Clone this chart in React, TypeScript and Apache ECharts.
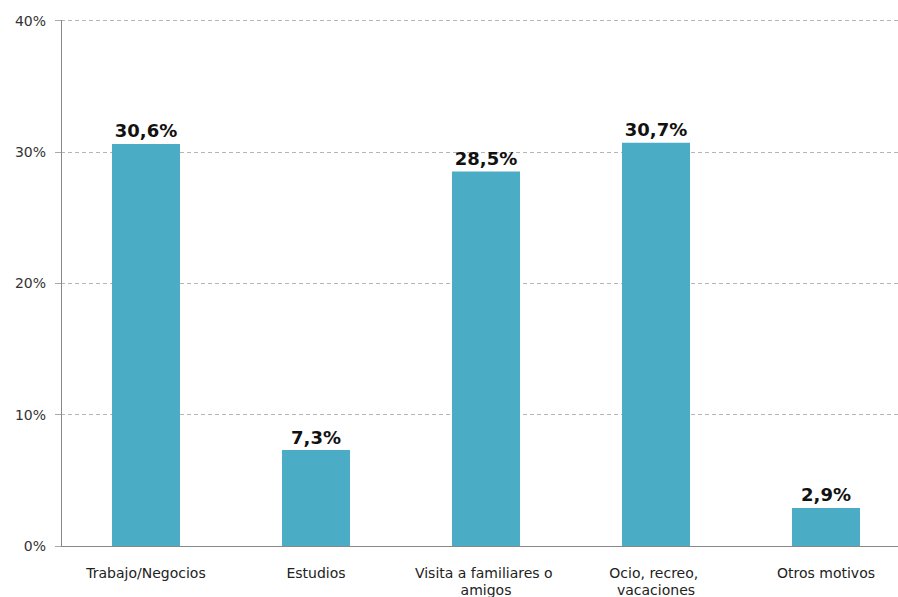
import React, { useEffect, useRef } from "react";
import * as echarts from "echarts";

const categories = [
  "Trabajo/Negocios",
  "Estudios",
  "Visita a familiares o amigos",
  "Ocio, recreo, vacaciones",
  "Otros motivos",
];
const values = [30.6, 7.3, 28.5, 30.7, 2.9];
const yTicks = [0, 10, 20, 30, 40];

export default function App() {
  const ref = useRef<HTMLDivElement>(null);
  useEffect(() => {
    if (!ref.current) return;
    const chart = echarts.init(ref.current, null, { renderer: "svg" });
    chart.setOption({
      animation: false,
      backgroundColor: "#ffffff",
      grid: {
        left: 61,
        top: 20.5,
        width: 850,
        height: 525.5,
        containLabel: false,
        outerBoundsMode: "none",
      },
      xAxis: {
        type: "category",
        data: categories,
        axisLine: { lineStyle: { color: "#888888", width: 1 } },
        axisTick: { show: false },
        axisLabel: {
          interval: 0,
          margin: 18,
          color: "#222222",
          fontFamily: "DejaVu Sans",
          fontSize: 14,
          lineHeight: 17,
          width: 156,
          overflow: "break",
        },
      },
      yAxis: {
        type: "value",
        min: yTicks[0],
        max: yTicks[yTicks.length - 1],
        interval: 10,
        axisLine: { show: true, lineStyle: { color: "#888888", width: 1 } },
        axisTick: { show: true, length: 6, lineStyle: { color: "#aaaaaa" } },
        axisLabel: {
          margin: 15,
          color: "#333333",
          fontFamily: "DejaVu Sans",
          fontSize: 14,
          formatter: (v: number) => `${v}%`,
        },
        splitLine: {
          show: true,
          lineStyle: { color: "#b5b5b5", type: [4, 3], width: 1 },
        },
      },
      series: [
        {
          type: "bar",
          data: values,
          barWidth: 68,
          itemStyle: { color: "#4BACC6" },
          label: {
            show: true,
            position: "top",
            distance: 4,
            color: "#111111",
            fontFamily: "DejaVu Sans",
            fontWeight: "bold",
            fontSize: 18,
            formatter: (p: any) => `${p.value.toFixed(1).replace(".", ",")}%`,
          },
        },
      ],
    });
    return () => chart.dispose();
  }, []);
  return (
    <div
      ref={ref}
      style={{ position: "absolute", left: 0, top: 0, width: 898, height: 597 }}
    />
  );
}
